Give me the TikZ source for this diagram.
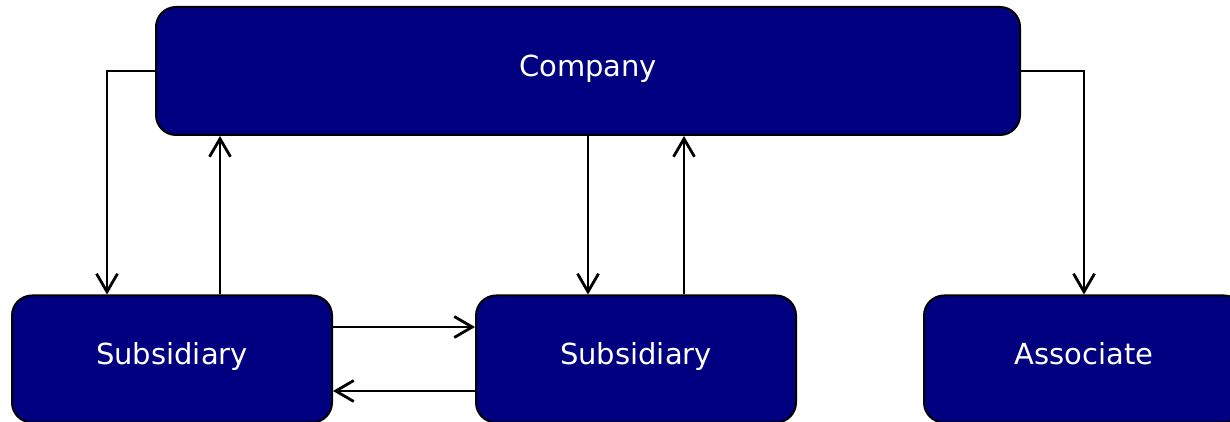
\documentclass[tikz,border=0pt]{standalone}
\usepackage{fontspec}
\setmainfont{DejaVu Sans}
\usetikzlibrary{arrows.meta}
\definecolor{boxblue}{RGB}{0,0,128}

\tikzset{
  entity/.style={draw=black, line width=2pt, fill=boxblue, rounded corners=20pt,
    text=white, font=\fontsize{29}{33}\selectfont, text height=20pt, text depth=9pt,
    minimum width=320pt, minimum height=127pt, inner sep=0pt},
  link/.style={line width=2.8pt, -{Straight Barb[length=18pt,width=21pt]}}
}

\begin{document}
\begin{tikzpicture}[x=1pt,y=1pt]
\useasboundingbox (0,0) rectangle (1230,422);
\node[entity, minimum width=864pt, minimum height=128pt] (company) at (588,351) {Company};
\node[entity] (sub1) at (172,63) {Subsidiary};
\node[entity] (sub2) at (636,63) {Subsidiary};
\node[entity] (assoc) at (1084,63) {Associate};
\draw[link] (company.west) -| ([xshift=96pt]sub1.north west);
\draw[link] ([xshift=48pt]sub1.north) -- ([xshift=48pt]sub1.north |- company.south);
\draw[link] (company.south) -- (company.south |- sub2.north);
\draw[link] ([xshift=48pt]sub2.north) -- ([xshift=48pt]sub2.north |- company.south);
\draw[link] (company.east) -| (assoc.north);
\draw[link] ([yshift=32pt]sub1.east) -- ([yshift=32pt]sub2.west);
\draw[link] ([yshift=-32pt]sub2.west) -- ([yshift=-32pt]sub1.east);
\end{tikzpicture}
\end{document}
